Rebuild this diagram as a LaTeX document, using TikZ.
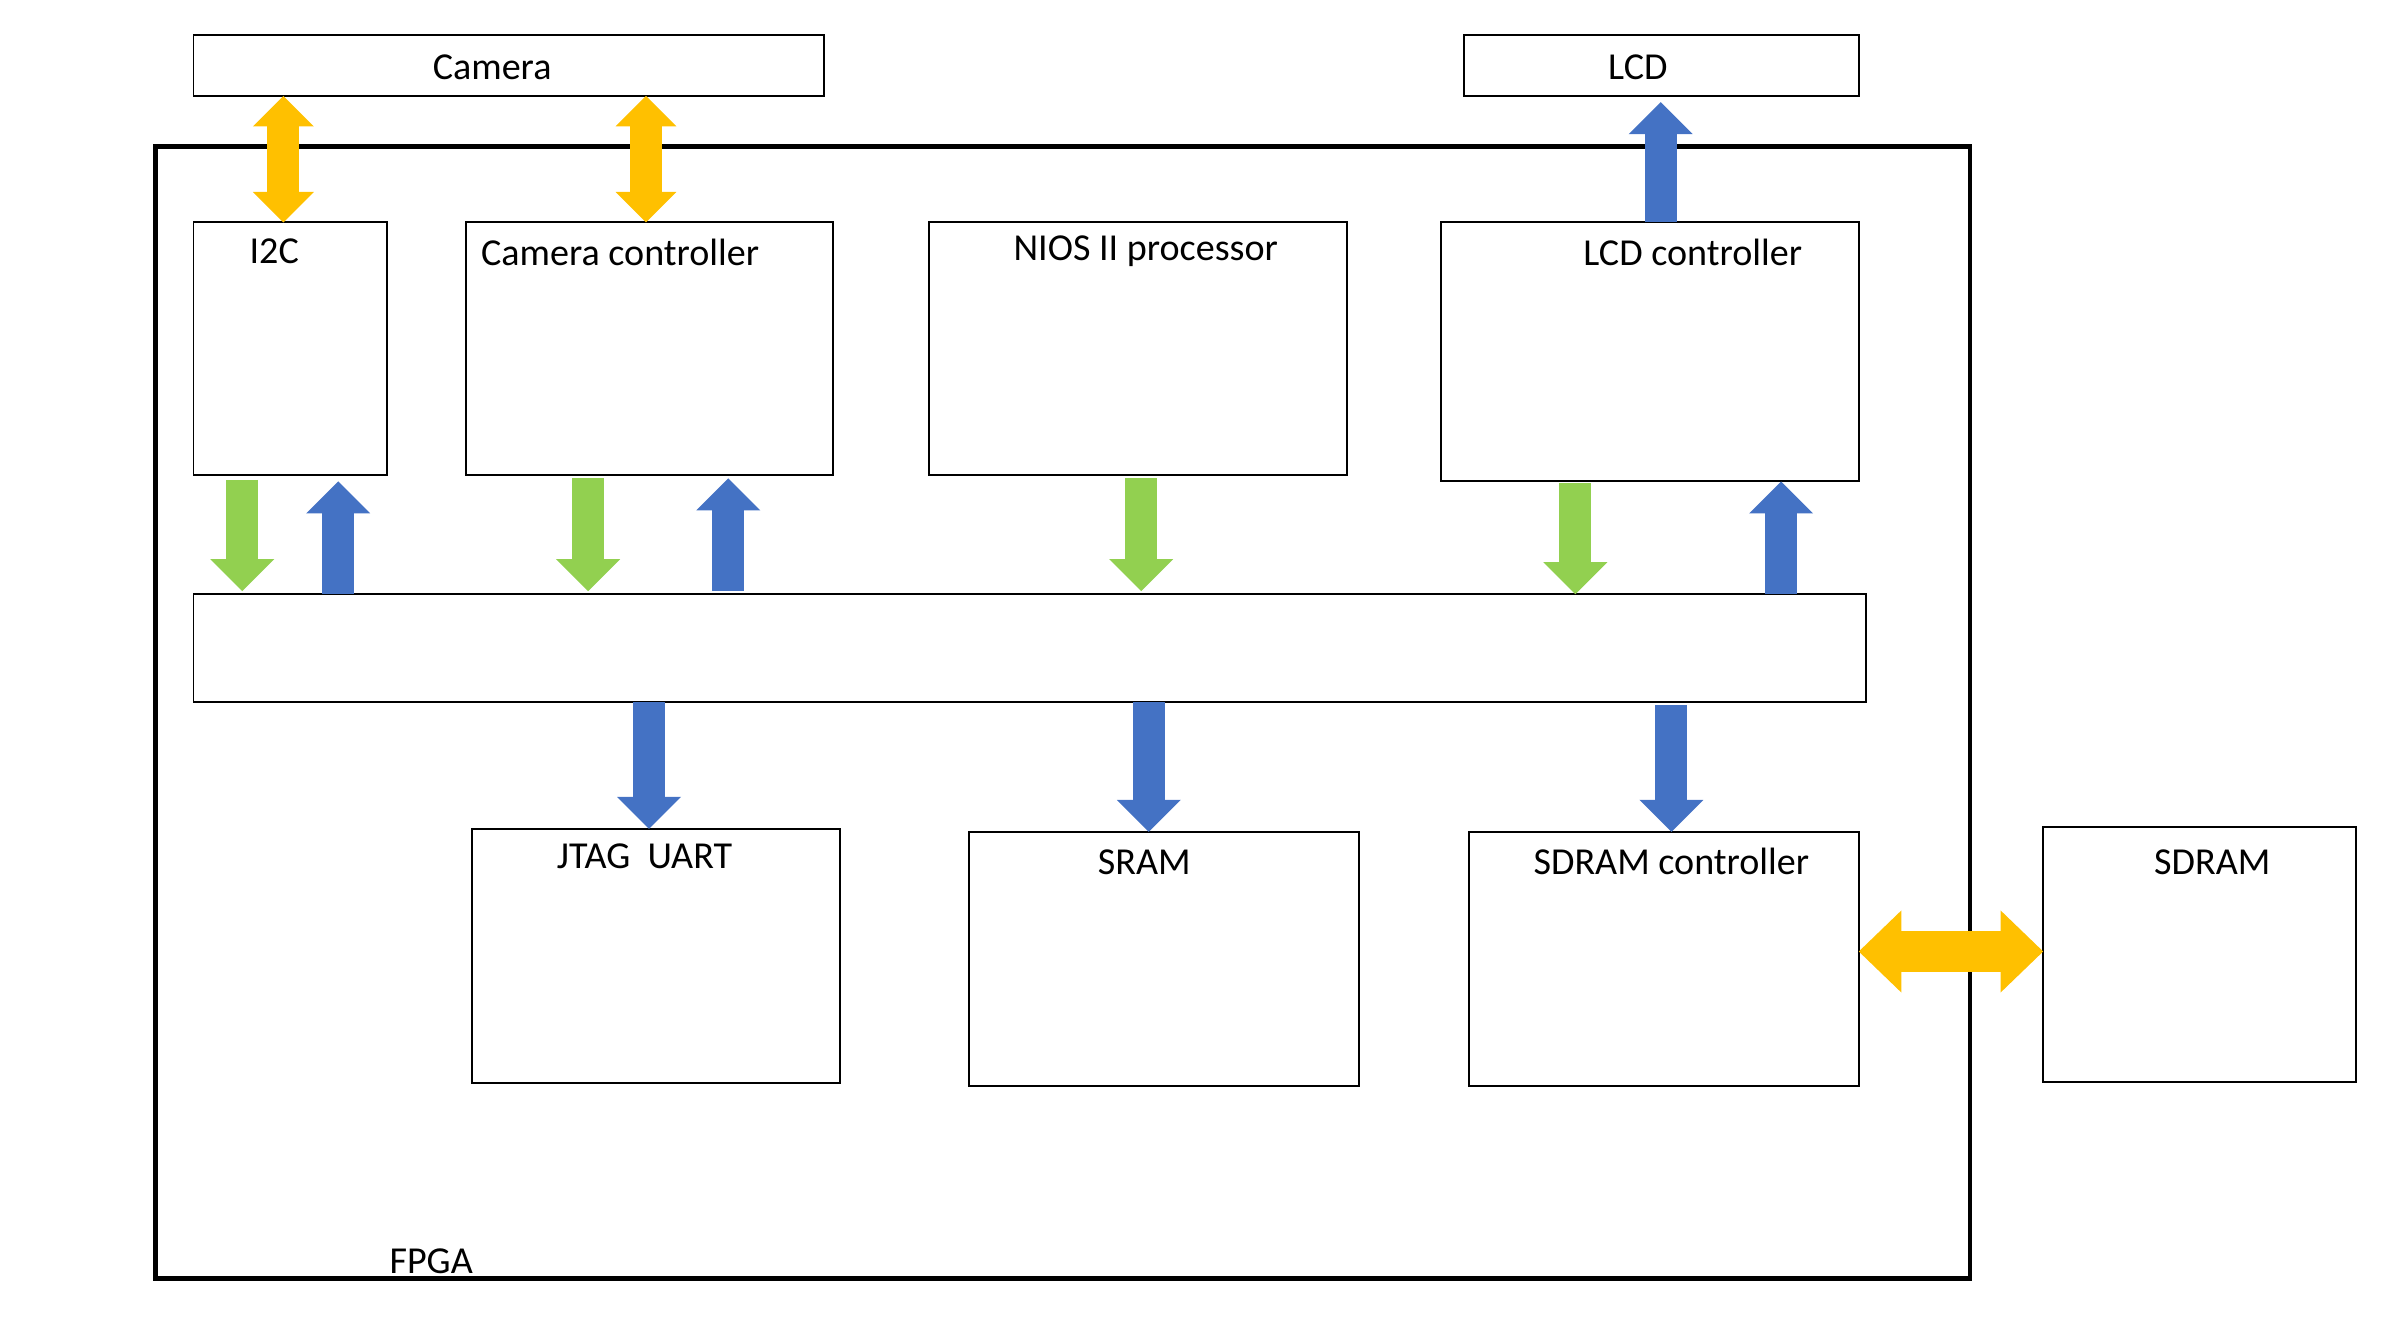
\documentclass[tikz,border=0pt]{standalone}
\usepackage{fontspec}
\setmainfont{Carlito}
\usetikzlibrary{arrows.meta}

\definecolor{camyellow}{HTML}{FFC000}
\definecolor{busblue}{HTML}{4472C4}
\definecolor{ctrlgreen}{HTML}{92D050}

\tikzset{
  box/.style={draw, line width=1.3pt, inner sep=0pt, outer sep=0pt, anchor=north west},
  txt/.style={anchor=base, inner sep=0pt, font=\fontsize{25}{30}\selectfont},
  uparr/.style={draw=busblue, line width=21pt, -{Triangle[width=42pt,length=21pt,line width=0pt]}},
  downarr/.style={draw=ctrlgreen, line width=21pt, -{Triangle[width=42pt,length=21pt,line width=0pt]}},
  yarr/.style={draw=camyellow, line width=21pt, {Triangle[width=40pt,length=20pt,line width=0pt]}-{Triangle[width=40pt,length=20pt,line width=0pt]}}
}

\begin{document}
\begin{tikzpicture}[x=1pt,y=-1pt]
\useasboundingbox (0,0) rectangle (1568,882);

% outside the FPGA
\node [box, minimum width=414pt, minimum height=40pt] (camera) at (127,23) {};
\node [box, minimum width=259pt, minimum height=40pt] (lcd) at (961,23) {};
\node [box, minimum width=205pt, minimum height=167pt] (sdram) at (1341,543) {};

% FPGA
\node [box, line width=3pt, minimum width=1191pt, minimum height=743pt] (fpga) at (102,96) {};

\node [box, minimum width=127pt, minimum height=166pt] (i2c) at (127,146) {};
\node [box, minimum width=241pt, minimum height=166pt] (camctl) at (306,146) {};
\node [box, minimum width=274pt, minimum height=166pt] (nios) at (610,146) {};
\node [box, minimum width=274pt, minimum height=170pt] (lcdctl) at (946,146) {};
\node [box, minimum width=1098pt, minimum height=71pt] (bus) at (127,390) {};
\node [box, minimum width=241pt, minimum height=167pt] (jtag) at (310,544) {};
\node [box, minimum width=256pt, minimum height=167pt] (sram) at (636,546) {};
\node [box, minimum width=256pt, minimum height=167pt] (sdctl) at (964,546) {};

% labels
\node [txt] (camera-t) at (323,52) {Camera};
\node [txt] (lcd-t) at (1075,52) {LCD};
\node [txt] (i2c-t) at (180,173) {I2C};
\node [txt] (camctl-t) at (407,174) {Camera controller};
\node [txt] (nios-t) at (752,171) {NIOS II processor};
\node [txt] (lcdctl-t) at (1111,174) {LCD controller};
\node [txt] (jtag-t) at (423,570) {JTAG\ \ UART};
\node [txt] (sram-t) at (751,574) {SRAM};
\node [txt] (sdctl-t) at (1097,574) {SDRAM controller};
\node [txt] (sdram-t) at (1452,574) {SDRAM};
\node [txt] (fpga-t) at (283,836) {FPGA};

% camera and LCD links
\draw [yarr] ([xshift=59pt]camera.south west) -- ([xshift=59pt]i2c.north west);
\draw [yarr] ([xshift=297pt]camera.south west) -- ([xshift=118pt]camctl.north west);
\draw [uparr] ([xshift=144pt]lcdctl.north west) -- ([xshift=129pt,yshift=-4pt]lcd.south west);

% to and from the bus
\draw [downarr] ([xshift=32pt,yshift=-3pt]i2c.south west) -- ([xshift=32pt,yshift=2pt]bus.north west);
\draw [uparr] ([xshift=95pt]bus.north west) -- ([xshift=95pt,yshift=-4pt]i2c.south west);
\draw [downarr] ([xshift=80pt,yshift=-2pt]camctl.south west) -- ([xshift=259pt,yshift=2pt]bus.north west);
\draw [uparr] ([xshift=351pt,yshift=2pt]bus.north west) -- ([xshift=172pt,yshift=-2pt]camctl.south west);
\draw [downarr] ([xshift=139pt,yshift=-2pt]nios.south west) -- ([xshift=622pt,yshift=2pt]bus.north west);
\draw [downarr] ([xshift=88pt,yshift=-1pt]lcdctl.south west) -- ([xshift=907pt]bus.north west);
\draw [uparr] ([xshift=1042pt]bus.north west) -- ([xshift=223pt]lcdctl.south west);

\draw [uparr] ([xshift=299pt]bus.south west) -- ([xshift=116pt]jtag.north west);
\draw [uparr] ([xshift=627pt]bus.south west) -- ([xshift=118pt]sram.north west);
\draw [uparr] ([xshift=970pt,yshift=-2pt]bus.south west) -- ([xshift=133pt]sdctl.north west);

% SDRAM link
\draw [yarr, line width=27pt, {Triangle[width=54pt,length=28pt,line width=0pt]}-{Triangle[width=54pt,length=28pt,line width=0pt]}] ([yshift=5pt]sdctl.east) -- ([yshift=2pt]sdram.west);

\end{tikzpicture}
\end{document}
